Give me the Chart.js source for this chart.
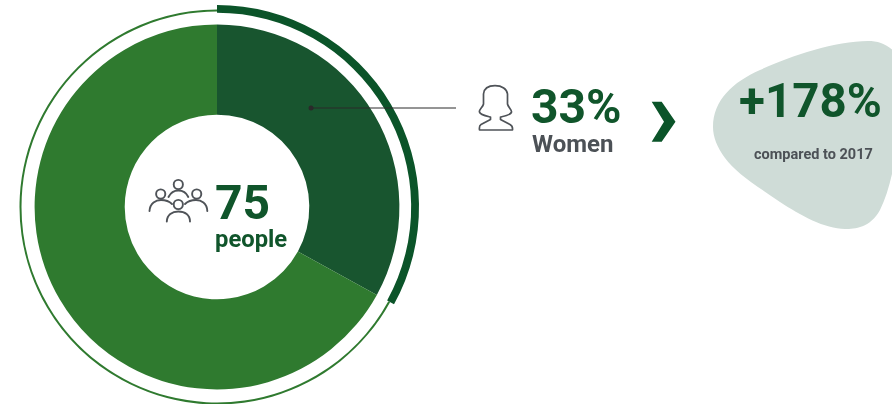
<!DOCTYPE html>
<html>
<head>
<meta charset="utf-8">
<style>
  html, body { margin: 0; padding: 0; background: #fff; width: 892px; height: 404px; overflow: hidden; }
  #stage { position: relative; width: 892px; height: 404px; }
  #stage canvas, #stage svg { position: absolute; left: 0; top: 0; }
  text { font-family: Roboto, sans-serif; font-weight: 700; }
</style>
<script src="https://cdn.jsdelivr.net/npm/chart.js@4/dist/chart.umd.min.js"></script>
</head>
<body>
<div id="stage">
  <canvas id="chart" width="892" height="404"></canvas>
  <svg id="notes" width="892" height="404" viewBox="0 0 892 404" xmlns="http://www.w3.org/2000/svg"></svg>
</div>
<script>
// Survey figures
const categories = ['Women', 'Others'];
const shares = [33, 67];
const peopleCount = '75';
const peopleLabel = 'people';
const womenShare = '33%';
const womenLabel = 'Women';
const growth = '+178%';
const growthLabel = 'compared to 2017';

const GREEN = '#2f7a2f';
const DARK_SLICE = '#18552f';
const DARK_ARC = '#0b5429';
const TITLE_GREEN = '#10552b';
const GREY = '#4c5156';

// Thin out the second segment of the outer ring so it reads as a hairline.
const thinRing = {
  id: 'thinRing',
  afterDatasetsUpdate(chart) {
    const rest = chart.getDatasetMeta(0).data[1];
    rest.innerRadius = 195.5;
    rest.outerRadius = 197.5;
  }
};

new Chart(document.getElementById('chart'), {
  type: 'doughnut',
  data: {
    labels: categories,
    datasets: [
      // Chart.js stacks doughnut datasets from the outside in
      { data: shares, weight: 8, backgroundColor: [DARK_ARC, GREEN], borderWidth: 0, clip: false },
      { data: shares, weight: 12, backgroundColor: 'rgba(0,0,0,0)', borderWidth: 0, clip: false },
      { data: shares, weight: 92, backgroundColor: [DARK_SLICE, GREEN], borderWidth: 0, clip: false }
    ]
  },
  options: {
    responsive: false,
    animation: false,
    radius: 202,
    cutout: 90,
    layout: { padding: { left: 0, right: 458, top: 10, bottom: 0 } },
    plugins: { legend: { display: false }, tooltip: { enabled: false } }
  },
  plugins: [thinRing]
});

// Callouts, icons and text laid over the chart
const notes = document.getElementById('notes');
const label = (str, x, y, size, fill) =>
  `<text x="${x}" y="${y}" font-size="${size}" fill="${fill}">${str}</text>`;

notes.innerHTML = `
  <path fill="#cfdcd7" d="M713,127 C713,100 733,82 760,70 C790,56 835,41 868,41 C885,41 900,50 905,75
    C900,130 895,180 880,210 C870,228 855,229 845,229 C825,229 800,215 780,202
    C755,185 735,172 725,158 C717,147 713,137 713,127 Z"/>
  <line x1="311" y1="108" x2="456" y2="108" stroke="#2a2a2a" stroke-width="1"/>
  <circle cx="311" cy="108" r="2.5" fill="#2a2a2a"/>
  <g fill="none" stroke="#4f5358" stroke-width="1.9" stroke-linecap="round">
    <circle cx="178.3" cy="184.5" r="4.6"/>
    <circle cx="160.7" cy="194" r="4.6"/>
    <circle cx="196.7" cy="194" r="4.6"/>
    <circle cx="178.3" cy="204.5" r="4.6"/>
    <path d="M149.5,211 C150,203 156,200 161,200 C165,200 169,201 172,204"/>
    <path d="M207.3,211 C207,203 201,200 196,200 C192,200 188,201 185,204"/>
    <path d="M168.5,197 C171,192 175,190.5 178.3,190.5 C182,190.5 186,192 188.3,197"/>
    <path d="M166.8,221.5 C167,215 172,211.5 178.3,211.5 C185,211.5 190,215 190,221.5"/>
  </g>
  <path fill="none" stroke="#4f5358" stroke-width="1.7" stroke-linejoin="round"
    d="M479.5,130 L512.5,130 C513,126 511,125 510,124.5 L500.5,119.5 L500.5,117 C505,116 511,115 511.5,112
       C512,110 508,107 507.5,104 L507.5,94 C507,89 502,85.7 495,85.7 C488,85.7 484,89 483.5,94 L483.5,104
       C483,107 478.5,110 479.5,112 C480,115 486,116 490.5,117 L490.5,119.5 L481,124.5 C480,125 479,126 479.5,130 Z"/>
  <polygon fill="${DARK_ARC}" points="651.7,101.7 661.7,101.7 675.5,121.7 661.7,141.7 651.7,141.7 664,121.7"/>
  ${label(peopleCount, 215, 219, 48, TITLE_GREEN)}
  ${label(peopleLabel, 215, 247, 23.8, TITLE_GREEN)}
  ${label(womenShare, 531, 123, 48, TITLE_GREEN)}
  ${label(womenLabel, 532, 152, 24, GREY)}
  ${label(growth, 739, 117, 47.5, TITLE_GREEN)}
  ${label(growthLabel, 754, 159, 14.5, GREY)}
`;
</script>
</body>
</html>
